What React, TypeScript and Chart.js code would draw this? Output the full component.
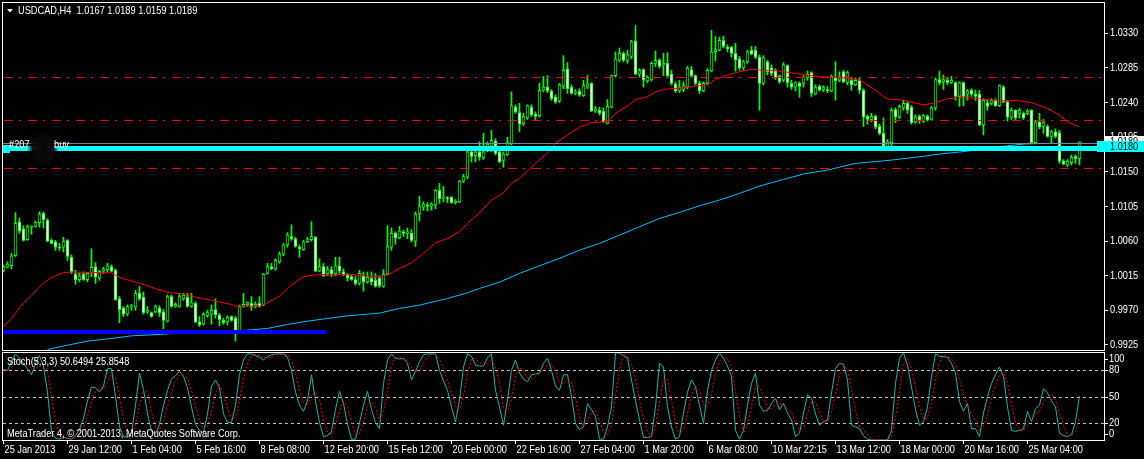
import React, { useEffect, useRef } from 'react';
import { Chart, registerables } from 'chart.js';

Chart.register(...registerables);

// ---------------- data ----------------
const titleText = 'USDCAD,H4  1.0167 1.0189 1.0159 1.0189';
const stochTitle = 'Stoch(5,3,3) 50.6494 25.8548';
const copyrightText = 'MetaTrader 4, \u00A9 2001-2013, MetaQuotes Software Corp.';

const opens = [
  1.0022,1.0026,1.0028,1.0041,1.0085,1.0076,1.0062,1.0078,1.0079,1.0084,
  1.0096,1.0087,1.0061,1.0059,1.0052,1.0052,1.0061,1.0039,1.0017,1.0010,
  1.0017,1.0010,1.0019,1.0027,1.0012,1.0021,1.0023,1.0027,1.0022,0.9985,
  0.9973,0.9965,0.9975,0.9974,0.9992,0.9987,0.9968,0.9967,0.9968,0.9973,
  0.9968,0.9956,0.9988,0.9975,0.9975,0.9985,0.9987,0.9975,0.9979,0.9955,
  0.9952,0.9963,0.9965,0.9971,0.9964,0.9957,0.9955,0.9962,0.9960,0.9943,
  0.9975,0.9977,0.9979,0.9975,0.9979,0.9977,1.0018,1.0027,1.0024,1.0033,
  1.0043,1.0055,1.0066,1.0063,1.0052,1.0049,1.0059,1.0062,1.0065,1.0021,
  1.0027,1.0018,1.0023,1.0018,1.0028,1.0020,1.0016,1.0014,1.0010,1.0005,
  1.0015,1.0007,1.0012,1.0009,1.0012,1.0001,1.0017,1.0052,1.0070,1.0064,
  1.0072,1.0070,1.0070,1.0060,1.0096,1.0104,1.0107,1.0105,1.0107,1.0126,
  1.0116,1.0116,1.0117,1.0110,1.0111,1.0138,1.0143,1.0176,1.0171,1.0176,
  1.0168,1.0182,1.0183,1.0190,1.0176,1.0165,1.0172,1.0187,1.0234,1.0227,
  1.0213,1.0220,1.0234,1.0225,1.0223,1.0256,1.0260,1.0255,1.0247,1.0242,
  1.0261,1.0284,1.0260,1.0252,1.0255,1.0249,1.0260,1.0265,1.0229,1.0230,
  1.0229,1.0213,1.0234,1.0275,1.0295,1.0304,1.0294,1.0300,1.0320,1.0277,
  1.0283,1.0268,1.0270,1.0291,1.0295,1.0289,1.0291,1.0277,1.0264,1.0255,
  1.0257,1.0260,1.0283,1.0275,1.0265,1.0255,1.0265,1.0281,1.0306,1.0308,
  1.0321,1.0312,1.0312,1.0304,1.0297,1.0285,1.0293,1.0308,1.0308,1.0299,
  1.0265,1.0293,1.0285,1.0282,1.0274,1.0269,1.0288,1.0265,1.0260,1.0265,
  1.0265,1.0272,1.0279,1.0251,1.0261,1.0257,1.0257,1.0255,1.0273,1.0269,
  1.0280,1.0266,1.0269,1.0263,1.0269,1.0256,1.0222,1.0218,1.0222,1.0209,
  1.0200,1.0183,1.0188,1.0231,1.0221,1.0233,1.0239,1.0234,1.0215,1.0222,
  1.0216,1.0222,1.0218,1.0233,1.0270,1.0267,1.0269,1.0266,1.0266,1.0248,
  1.0266,1.0251,1.0256,1.0251,1.0251,1.0211,1.0240,1.0239,1.0243,1.0236,
  1.0260,1.0241,1.0221,1.0230,1.0226,1.0226,1.0226,1.0230,1.0188,1.0215,
  1.0209,1.0209,1.0196,1.0202,1.0201,1.0164,1.0159,1.0162,1.0170,1.0167,
];
const highs = [
  1.0029,1.0033,1.0044,1.0097,1.0090,1.0080,1.0081,1.0080,1.0086,1.0098,
  1.0098,1.0089,1.0063,1.0061,1.0057,1.0065,1.0062,1.0042,1.0022,1.0018,
  1.0020,1.0019,1.0050,1.0032,1.0022,1.0026,1.0031,1.0029,1.0024,0.9988,
  0.9975,0.9977,0.9978,0.9996,1.0001,0.9994,0.9975,0.9968,0.9977,0.9976,
  0.9971,0.9990,0.9990,0.9980,0.9992,0.9992,0.9992,0.9992,0.9981,0.9962,
  0.9967,0.9970,0.9977,0.9985,0.9966,0.9960,0.9963,0.9963,0.9962,0.9977,
  0.9992,0.9981,0.9988,0.9981,0.9988,1.0018,1.0031,1.0031,1.0037,1.0046,
  1.0057,1.0071,1.0081,1.0065,1.0055,1.0061,1.0065,1.0085,1.0066,1.0037,
  1.0031,1.0027,1.0027,1.0039,1.0039,1.0024,1.0018,1.0016,1.0014,1.0022,
  1.0020,1.0020,1.0020,1.0018,1.0015,1.0023,1.0080,1.0077,1.0072,1.0079,
  1.0074,1.0077,1.0075,1.0098,1.0118,1.0111,1.0110,1.0110,1.0127,1.0135,
  1.0131,1.0118,1.0118,1.0114,1.0139,1.0147,1.0183,1.0178,1.0183,1.0189,
  1.0200,1.0189,1.0204,1.0193,1.0178,1.0176,1.0195,1.0254,1.0237,1.0239,
  1.0226,1.0237,1.0237,1.0228,1.0265,1.0274,1.0275,1.0257,1.0250,1.0265,
  1.0301,1.0292,1.0263,1.0257,1.0258,1.0269,1.0275,1.0266,1.0235,1.0234,
  1.0233,1.0244,1.0276,1.0306,1.0311,1.0306,1.0308,1.0321,1.0340,1.0284,
  1.0284,1.0275,1.0293,1.0307,1.0297,1.0304,1.0305,1.0282,1.0267,1.0269,
  1.0267,1.0287,1.0287,1.0276,1.0268,1.0267,1.0284,1.0334,1.0326,1.0325,
  1.0326,1.0315,1.0313,1.0317,1.0300,1.0295,1.0308,1.0313,1.0313,1.0302,
  1.0301,1.0295,1.0289,1.0284,1.0276,1.0292,1.0289,1.0269,1.0267,1.0267,
  1.0275,1.0281,1.0280,1.0263,1.0263,1.0262,1.0261,1.0276,1.0293,1.0280,
  1.0282,1.0281,1.0272,1.0272,1.0272,1.0258,1.0224,1.0226,1.0224,1.0212,
  1.0220,1.0192,1.0233,1.0233,1.0237,1.0243,1.0241,1.0236,1.0224,1.0224,
  1.0225,1.0224,1.0235,1.0272,1.0281,1.0276,1.0273,1.0274,1.0267,1.0267,
  1.0267,1.0257,1.0258,1.0256,1.0256,1.0245,1.0243,1.0245,1.0245,1.0263,
  1.0262,1.0243,1.0233,1.0231,1.0233,1.0228,1.0231,1.0231,1.0217,1.0226,
  1.0218,1.0211,1.0204,1.0206,1.0204,1.0166,1.0166,1.0172,1.0172,1.0189,
];
const lows = [
  1.0020,1.0025,1.0024,1.0040,1.0070,1.0060,1.0061,1.0069,1.0078,1.0078,
  1.0077,1.0059,1.0056,1.0048,1.0048,1.0046,1.0035,1.0018,1.0004,1.0007,
  1.0009,1.0007,1.0014,1.0005,1.0009,1.0018,1.0020,1.0020,0.9983,0.9954,
  0.9962,0.9963,0.9970,0.9970,0.9983,0.9965,0.9966,0.9961,0.9967,0.9962,
  0.9946,0.9955,0.9974,0.9974,0.9974,0.9983,0.9974,0.9974,0.9954,0.9949,
  0.9951,0.9961,0.9952,0.9960,0.9950,0.9952,0.9951,0.9956,0.9930,0.9942,
  0.9974,0.9975,0.9970,0.9973,0.9974,0.9976,1.0017,1.0023,1.0022,1.0031,
  1.0041,1.0052,1.0061,1.0052,1.0039,1.0048,1.0058,1.0060,1.0020,1.0020,
  1.0014,1.0015,1.0014,1.0015,1.0018,1.0015,1.0008,1.0009,1.0003,1.0003,
  0.9995,1.0005,1.0003,1.0000,1.0000,1.0000,1.0016,1.0048,1.0056,1.0063,
  1.0066,1.0063,1.0059,1.0053,1.0086,1.0100,1.0099,1.0100,1.0102,1.0109,
  1.0111,1.0110,1.0109,1.0108,1.0110,1.0136,1.0141,1.0163,1.0163,1.0165,
  1.0166,1.0176,1.0176,1.0172,1.0162,1.0156,1.0171,1.0185,1.0226,1.0202,
  1.0210,1.0218,1.0222,1.0218,1.0221,1.0254,1.0253,1.0243,1.0239,1.0240,
  1.0258,1.0252,1.0251,1.0250,1.0248,1.0248,1.0258,1.0228,1.0227,1.0224,
  1.0214,1.0212,1.0233,1.0273,1.0293,1.0293,1.0291,1.0297,1.0276,1.0273,
  1.0260,1.0266,1.0268,1.0287,1.0285,1.0275,1.0272,1.0263,1.0253,1.0253,
  1.0254,1.0258,1.0273,1.0263,1.0252,1.0254,1.0264,1.0280,1.0294,1.0307,
  1.0311,1.0306,1.0299,1.0281,1.0282,1.0282,1.0291,1.0302,1.0297,1.0230,
  1.0263,1.0276,1.0275,1.0270,1.0265,1.0267,1.0260,1.0257,1.0255,1.0247,
  1.0260,1.0269,1.0248,1.0250,1.0255,1.0254,1.0253,1.0254,1.0243,1.0267,
  1.0266,1.0263,1.0256,1.0262,1.0252,1.0209,1.0212,1.0215,1.0206,1.0198,
  1.0182,1.0182,1.0183,1.0214,1.0219,1.0230,1.0226,1.0212,1.0213,1.0213,
  1.0214,1.0216,1.0217,1.0230,1.0263,1.0257,1.0263,1.0265,1.0243,1.0235,
  1.0236,1.0243,1.0248,1.0243,1.0210,1.0198,1.0230,1.0237,1.0235,1.0235,
  1.0240,1.0216,1.0218,1.0218,1.0220,1.0218,1.0224,1.0187,1.0187,1.0206,
  1.0200,1.0195,1.0187,1.0194,1.0161,1.0159,1.0157,1.0159,1.0161,1.0159,
];
const closes = [
  1.0027,1.0030,1.0041,1.0083,1.0073,1.0061,1.0079,1.0079,1.0084,1.0095,
  1.0088,1.0060,1.0057,1.0052,1.0051,1.0060,1.0040,1.0020,1.0010,1.0015,
  1.0010,1.0018,1.0026,1.0013,1.0021,1.0024,1.0028,1.0021,0.9984,0.9971,
  0.9965,0.9975,0.9976,0.9992,0.9985,0.9967,0.9970,0.9962,0.9975,0.9967,
  0.9957,0.9988,0.9975,0.9978,0.9988,0.9990,0.9975,0.9980,0.9955,0.9951,
  0.9965,0.9967,0.9970,0.9964,0.9958,0.9954,0.9961,0.9957,0.9943,0.9975,
  0.9978,0.9980,0.9974,0.9978,0.9975,1.0017,1.0027,1.0024,1.0035,1.0043,
  1.0055,1.0068,1.0063,1.0053,1.0050,1.0059,1.0063,1.0066,1.0021,1.0027,
  1.0015,1.0023,1.0017,1.0028,1.0021,1.0016,1.0012,1.0010,1.0005,1.0018,
  1.0007,1.0013,1.0007,1.0001,1.0002,1.0017,1.0053,1.0070,1.0064,1.0073,
  1.0070,1.0072,1.0061,1.0095,1.0105,1.0108,1.0105,1.0108,1.0126,1.0115,
  1.0117,1.0115,1.0110,1.0112,1.0138,1.0144,1.0176,1.0170,1.0176,1.0169,
  1.0176,1.0186,1.0191,1.0174,1.0163,1.0173,1.0188,1.0236,1.0228,1.0212,
  1.0222,1.0236,1.0224,1.0222,1.0256,1.0260,1.0255,1.0245,1.0241,1.0263,
  1.0282,1.0258,1.0252,1.0254,1.0250,1.0262,1.0264,1.0229,1.0232,1.0226,
  1.0215,1.0235,1.0275,1.0297,1.0304,1.0295,1.0302,1.0319,1.0277,1.0282,
  1.0269,1.0273,1.0291,1.0295,1.0287,1.0291,1.0275,1.0265,1.0255,1.0260,
  1.0262,1.0285,1.0275,1.0265,1.0255,1.0265,1.0282,1.0306,1.0309,1.0321,
  1.0313,1.0310,1.0304,1.0295,1.0285,1.0293,1.0306,1.0303,1.0299,1.0265,
  1.0298,1.0280,1.0278,1.0272,1.0267,1.0289,1.0266,1.0260,1.0266,1.0261,
  1.0273,1.0277,1.0252,1.0260,1.0256,1.0260,1.0255,1.0274,1.0268,1.0273,
  1.0267,1.0279,1.0263,1.0269,1.0256,1.0221,1.0218,1.0222,1.0208,1.0200,
  1.0183,1.0189,1.0230,1.0221,1.0235,1.0239,1.0230,1.0214,1.0221,1.0217,
  1.0223,1.0217,1.0233,1.0270,1.0266,1.0270,1.0266,1.0269,1.0248,1.0266,
  1.0248,1.0255,1.0251,1.0248,1.0211,1.0243,1.0235,1.0243,1.0236,1.0262,
  1.0241,1.0221,1.0230,1.0220,1.0230,1.0220,1.0229,1.0188,1.0215,1.0208,
  1.0214,1.0196,1.0202,1.0196,1.0164,1.0160,1.0164,1.0169,1.0167,1.0189,
];

// moving averages, read at the bars where they were sampled
const redMaIndex = [0,2,3,5,7,10,12,15,17,27,28,30,34,38,41,46,48,52,57,58,64,66,69,72,75,78,82,87,91,94,96,99,102,106,108,111,114,116,119,122,125,127,129,131,133,136,138,141,144,146,147,151,153,156,158,161,163,165,167,171,173,176,178,181,184,187,189,194,199,204,209,214,218,221,225,230,233,236,240,244,247,251,254,257,261,264,266,269];
const redMaValue = [0.99495,0.99586,0.99664,0.99794,0.99898,1.00054,1.00126,1.00191,1.00197,1.00188,1.00158,1.00110,1.00054,0.99983,0.99933,0.99907,0.99872,0.99829,0.99777,0.99755,0.99755,0.99798,0.99885,1.00028,1.00136,1.00162,1.00167,1.00167,1.00145,1.00138,1.00158,1.00245,1.00318,1.00483,1.00578,1.00635,1.00721,1.00830,1.00968,1.01133,1.01228,1.01350,1.01415,1.01510,1.01610,1.01740,1.01870,1.01978,1.02078,1.02121,1.02143,1.02151,1.02260,1.02355,1.02442,1.02476,1.02537,1.02572,1.02580,1.02598,1.02615,1.02628,1.02702,1.02758,1.02801,1.02832,1.02823,1.02810,1.02771,1.02736,1.02728,1.02693,1.02563,1.02446,1.02433,1.02368,1.02398,1.02450,1.02468,1.02450,1.02433,1.02424,1.02424,1.02398,1.02325,1.02238,1.02151,1.02086];
const blueMaIndex = [11,16,21,27,32,39,46,52,59,66,71,76,81,86,91,94,99,104,111,116,119,124,129,134,139,144,149,154,159,164,169,174,179,184,189,195,200,206,213,222,229,234,239,249,255,260,269];
const blueMaValue = [0.99192,0.99248,0.99300,0.99335,0.99369,0.99387,0.99413,0.99430,0.99434,0.99465,0.99517,0.99560,0.99595,0.99629,0.99651,0.99664,0.99725,0.99768,0.99855,0.99928,0.99985,1.00067,1.00180,1.00279,1.00375,1.00483,1.00570,1.00678,1.00786,1.00895,1.00973,1.01059,1.01133,1.01220,1.01315,1.01402,1.01471,1.01523,1.01610,1.01653,1.01696,1.01731,1.01757,1.01826,1.01861,1.01870,1.01870];

// stochastic %K (main line)
const stochK = [
  81,80,90,99,94,88,82,75,88,97,
  85,55,10,2,1,3,2,1,5,12,
  25,45,61,60,55,62,82,82,50,15,
  4,3,8,40,77,58,30,10,7,18,
  40,57,70,74,79,73,60,38,18,11,
  8,30,62,69,60,30,20,20,40,75,
  92,99,99,97,95,92,96,98,99,99,
  99,95,80,55,40,33,45,75,45,20,
  4,5,10,35,56,42,18,1,1,20,
  40,56,35,20,13,65,92,99,94,93,
  94,88,69,79,90,98,99,99,99,80,
  68,57,38,21,46,84,99,96,86,85,
  85,95,99,57,38,17,46,80,92,77,
  70,67,75,76,77,88,94,80,62,57,
  75,75,50,19,12,15,42,35,27,1,
  1,15,38,100,100,97,94,69,45,23,
  3,3,4,38,88,84,38,15,1,4,
  31,55,69,61,40,19,57,80,92,100,
  94,85,73,11,1,11,40,65,77,40,
  33,34,42,48,35,42,31,23,4,8,
  31,52,48,30,17,21,23,54,82,88,
  87,69,17,15,13,5,1,0,0,0,
  0,0,11,65,94,100,86,61,35,17,
  21,38,73,99,96,96,95,88,77,44,
  33,42,13,13,4,31,50,65,75,84,
  73,38,11,10,11,13,33,21,36,40,
  59,54,45,38,8,5,4,6,21,50.6494,
];

const priceTicks = [0.9925, 0.997, 1.0015, 1.006, 1.0105, 1.015, 1.0195, 1.024, 1.0285, 1.033];
const timeTickIndex = [0, 16, 32, 48, 64, 80, 96, 112, 128, 144, 160, 176, 192, 208, 224, 240, 256];
const timeTickLabels = ['25 Jan 2013', '29 Jan 12:00', '1 Feb 04:00', '5 Feb 16:00', '8 Feb 08:00', '12 Feb 20:00', '15 Feb 12:00', '20 Feb 00:00', '22 Feb 16:00', '27 Feb 04:00', '1 Mar 20:00', '6 Mar 08:00', '10 Mar 22:15', '13 Mar 12:00', '18 Mar 00:00', '20 Mar 16:00', '25 Mar 04:00'];
const stochLevels = [80, 50, 20];
const stochAxisLabels = [100, 80, 50, 20, 0];
const dashDotLevels = [1.0273, 1.0218, 1.0155];
const bidLevel = [1.0189];
const orderLevel = [1.0180];
const orderText = ['#207', 'buy'];
const trendIndex = [-1, 80.8];
const trendValue = [0.9942, 0.9942];

// ---------------- layout / style ----------------
const W = 1144;
const MAIN_H = 352;
const STOCH_H = 107;
const X_MIN = -0.125;
const X_MAX = 275.125;
const Y_MIN = 0.99185;
const Y_MAX = 1.03694;
const TEXT_SX = 0.84; // the reference is horizontally condensed
const FONT = '11px "Liberation Sans", Arial, sans-serif';

function hline(ctx: CanvasRenderingContext2D, x0: number, x1: number, y: number) {
  ctx.beginPath();
  ctx.moveTo(x0, y);
  ctx.lineTo(x1, y);
  ctx.stroke();
}

function label(ctx: CanvasRenderingContext2D, s: string, x: number, y: number, color: string) {
  ctx.save();
  ctx.font = FONT;
  ctx.textBaseline = 'middle';
  ctx.textAlign = 'left';
  ctx.fillStyle = color;
  ctx.translate(x, y);
  ctx.scale(TEXT_SX, 1);
  ctx.fillText(s, 0, 0);
  ctx.restore();
}

export default function App() {
  const mainRef = useRef<HTMLCanvasElement | null>(null);
  const stochRef = useRef<HTMLCanvasElement | null>(null);

  useEffect(() => {
    const idx = opens.map((_, i) => i);
    const wickData = idx.map((i) => ({ x: i, y: [lows[i], highs[i]] }));
    const bodyData = idx.map((i) => ({ x: i, y: [Math.min(opens[i], closes[i]), Math.max(opens[i], closes[i])] }));
    const redData = redMaIndex.map((x, k) => ({ x, y: redMaValue[k] }));
    const blueData = blueMaIndex.map((x, k) => ({ x, y: blueMaValue[k] }));
    const trendData = trendIndex.map((x, k) => ({ x, y: trendValue[k] }));

    const mainPlugin = {
      id: 'mt4main',
      beforeDraw(chart: any) {
        const { ctx, width, height } = chart;
        ctx.save();
        ctx.fillStyle = '#000';
        ctx.fillRect(0, 0, width, height);
        ctx.restore();
      },
      afterDatasetsDraw(chart: any) {
        const { ctx, chartArea: a, scales } = chart;
        const ys = scales.y;
        ctx.save();
        ctx.beginPath();
        ctx.rect(a.left, a.top, a.right - a.left, a.bottom - a.top);
        ctx.clip();
        ctx.lineWidth = 1;
        ctx.strokeStyle = '#FF0000';
        ctx.setLineDash([9, 6, 2, 7]);
        dashDotLevels.forEach((v) => hline(ctx, a.left + 1, a.right, Math.round(ys.getPixelForValue(v)) + 0.5));
        ctx.setLineDash([]);
        ctx.strokeStyle = '#778899';
        bidLevel.forEach((v) => hline(ctx, a.left, a.right, Math.round(ys.getPixelForValue(v)) + 1.5));
        const oy = Math.round(ys.getPixelForValue(orderLevel[0]));
        ctx.fillStyle = '#00FFFF';
        ctx.fillRect(a.left, oy - 3, a.right - a.left, 5);
        ctx.fillRect(a.left, oy - 4, 7, 8);
        // blurred patch over the order label
        ctx.save();
        ctx.translate(43, oy);
        ctx.scale(1, 1.35);
        const g = ctx.createRadialGradient(0, 0, 2, 0, 0, 16);
        g.addColorStop(0, 'rgba(8,8,8,1)');
        g.addColorStop(0.6, 'rgba(8,8,8,0.95)');
        g.addColorStop(1, 'rgba(0,0,0,0)');
        ctx.fillStyle = g;
        ctx.fillRect(-18, -18, 36, 36);
        ctx.restore();
        label(ctx, orderText[0], 9, oy - 4, '#FFFFFF');
        label(ctx, orderText[1], 54, oy - 4, '#FFFFFF');
        ctx.restore();
      },
      afterDraw(chart: any) {
        const { ctx, chartArea: a, scales } = chart;
        const ys = scales.y;
        ctx.save();
        ctx.strokeStyle = '#FFFFFF';
        ctx.lineWidth = 1;
        ctx.strokeRect(a.left - 0.5, a.top - 0.5, a.right - a.left + 1, a.bottom - a.top + 1);
        // title
        ctx.fillStyle = '#FFFFFF';
        ctx.beginPath();
        ctx.moveTo(7, 9);
        ctx.lineTo(13, 9);
        ctx.lineTo(10, 12.5);
        ctx.closePath();
        ctx.fill();
        label(ctx, titleText, 18, 11, '#FFFFFF');
        // price axis labels
        priceTicks.forEach((v) => label(ctx, v.toFixed(4), a.right + 6, ys.getPixelForValue(v), '#FFFFFF'));
        // bid label
        const by = ys.getPixelForValue(bidLevel[0]);
        ctx.fillStyle = '#FFFFFF';
        ctx.fillRect(a.right + 1, Math.round(by) - 6, 40, 11);
        label(ctx, bidLevel[0].toFixed(4), a.right + 6, by, '#000000');
        // order label
        const oy = ys.getPixelForValue(orderLevel[0]);
        ctx.fillStyle = '#00FFFF';
        ctx.fillRect(a.right - 7, Math.round(oy) - 8, 47, 11);
        label(ctx, orderLevel[0].toFixed(4), a.right + 6, Math.round(oy) - 2, '#000000');
        ctx.restore();
      },
    };

    const mainChart = new Chart(mainRef.current as HTMLCanvasElement, {
      type: 'bar',
      data: {
        datasets: [
          {
            type: 'line', label: 'trend', data: trendData as any, borderColor: '#0000FF', borderWidth: 4,
            pointRadius: 0, order: 1, borderCapStyle: 'butt',
          } as any,
          {
            type: 'line', label: 'maBlue', data: blueData as any, borderColor: '#00BFFF', borderWidth: 1,
            pointRadius: 0, tension: 0, order: 2,
          } as any,
          {
            type: 'line', label: 'maRed', data: redData as any, borderColor: '#FF0000', borderWidth: 1,
            pointRadius: 0, tension: 0, order: 3,
          } as any,
          {
            type: 'bar', label: 'body', data: bodyData as any, barThickness: 3, grouped: false, minBarLength: 1,
            borderWidth: 1, borderSkipped: false, borderColor: '#00FF00',
            backgroundColor: (c: any) => (closes[c.dataIndex] >= opens[c.dataIndex] ? '#000000' : '#FFFFFF'),
            order: 4,
          } as any,
          {
            type: 'bar', label: 'wick', data: wickData as any, barThickness: 1, grouped: false, minBarLength: 1,
            borderWidth: 0, backgroundColor: '#00FF00', order: 5,
          } as any,
        ],
      },
      options: {
        responsive: false,
        animation: false,
        devicePixelRatio: 1,
        events: [],
        layout: { padding: { left: 3, top: 3, right: 0, bottom: 2 } },
        plugins: { legend: { display: false }, tooltip: { enabled: false } },
        scales: {
          x: { type: 'linear', min: X_MIN, max: X_MAX, display: false, offset: false, grid: { offset: false } },
          y: {
            type: 'linear', position: 'right', min: Y_MIN, max: Y_MAX,
            afterBuildTicks: (s: any) => { s.ticks = priceTicks.map((v) => ({ value: v })); },
            afterFit: (s: any) => { s.width = 40; s.paddingTop = 0; s.paddingBottom = 0; },
            ticks: { display: false, autoSkip: false },
            grid: { drawOnChartArea: false, drawTicks: true, tickLength: 4, color: '#FFFFFF' },
            border: { display: true, color: '#FFFFFF' },
          },
        },
      } as any,
      plugins: [mainPlugin as any],
    });

    const stochD = stochK.map((_, i) => {
      const s = stochK.slice(Math.max(0, i - 2), i + 1);
      return s.reduce((p, q) => p + q, 0) / s.length;
    });
    const kData = stochK.map((v, i) => ({ x: i, y: v }));
    const dData = stochD.map((v, i) => ({ x: i, y: v }));

    const stochPlugin = {
      id: 'mt4stoch',
      beforeDraw(chart: any) {
        const { ctx, width, height } = chart;
        ctx.save();
        ctx.fillStyle = '#000';
        ctx.fillRect(0, 0, width, height);
        ctx.restore();
      },
      beforeDatasetsDraw(chart: any) {
        const { ctx, chartArea: a, scales } = chart;
        ctx.save();
        ctx.strokeStyle = '#C0C0C0';
        ctx.lineWidth = 1;
        ctx.setLineDash([3, 3]);
        stochLevels.forEach((v) => hline(ctx, a.left, a.right, Math.round(scales.y.getPixelForValue(v)) + 0.5));
        ctx.restore();
      },
      afterDraw(chart: any) {
        const { ctx, chartArea: a, scales } = chart;
        ctx.save();
        ctx.strokeStyle = '#FFFFFF';
        ctx.lineWidth = 1;
        ctx.strokeRect(a.left - 0.5, a.top - 0.5, a.right - a.left + 1, a.bottom - a.top + 1);
        stochAxisLabels.forEach((v) => {
          const py = Math.min(Math.max(scales.y.getPixelForValue(v), a.top + 6), a.bottom - 6);
          hline(ctx, a.right, a.right + 4, Math.round(py) + 0.5);
          label(ctx, String(v), a.right + 5, py, '#FFFFFF');
        });
        timeTickIndex.forEach((v, k) => label(ctx, timeTickLabels[k], scales.x.getPixelForValue(v) + 1, a.bottom + 10, '#FFFFFF'));
        label(ctx, stochTitle, 7, a.top + 9, '#FFFFFF');
        label(ctx, copyrightText, 7, a.bottom - 6, '#FFFFFF');
        ctx.restore();
      },
    };

    const stochChart = new Chart(stochRef.current as HTMLCanvasElement, {
      type: 'line',
      data: {
        datasets: [
          { label: 'signal', data: dData as any, borderColor: '#FF0000', borderWidth: 1, borderDash: [2, 2], pointRadius: 0, tension: 0, order: 0 },
          { label: 'main', data: kData as any, borderColor: '#20B2AA', borderWidth: 1, pointRadius: 0, tension: 0, order: 1 },
        ],
      },
      options: {
        responsive: false,
        animation: false,
        devicePixelRatio: 1,
        events: [],
        layout: { padding: { left: 3, top: 1, right: 40, bottom: 0 } },
        plugins: { legend: { display: false }, tooltip: { enabled: false } },
        scales: {
          x: {
            type: 'linear', min: X_MIN, max: X_MAX, offset: false,
            afterBuildTicks: (s: any) => { s.ticks = timeTickIndex.map((v) => ({ value: v })); },
            afterFit: (s: any) => { s.height = 19; s.paddingLeft = 0; s.paddingRight = 0; },
            ticks: { display: false, autoSkip: false },
            grid: { drawOnChartArea: false, drawTicks: true, tickLength: 4, color: '#FFFFFF' },
            border: { display: false },
          },
          y: { type: 'linear', min: 0, max: 100, display: false },
        },
      } as any,
      plugins: [stochPlugin as any],
    });

    return () => {
      mainChart.destroy();
      stochChart.destroy();
    };
  }, []);

  return (
    <div style={{ position: 'fixed', left: 0, top: 0, width: W, height: MAIN_H + STOCH_H, background: '#000', overflow: 'hidden' }}>
      <canvas ref={mainRef} width={W} height={MAIN_H} style={{ position: 'absolute', left: 0, top: 0, display: 'block' }} />
      <canvas ref={stochRef} width={W} height={STOCH_H} style={{ position: 'absolute', left: 0, top: MAIN_H, display: 'block' }} />
    </div>
  );
}
